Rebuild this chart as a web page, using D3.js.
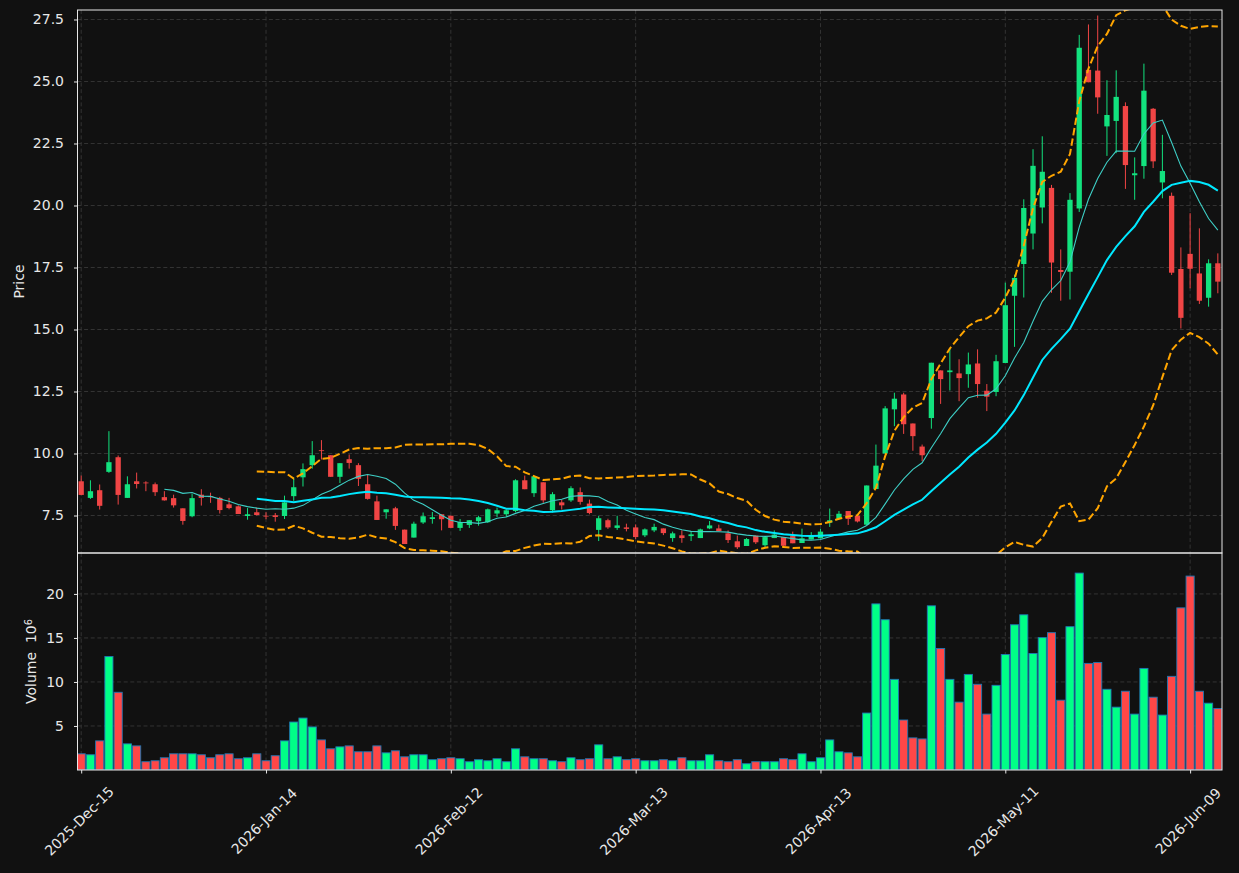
<!DOCTYPE html>
<html>
<head>
<meta charset="utf-8">
<script src="https://cdn.jsdelivr.net/npm/d3@7"></script>
<style>
  body { margin: 0; background: #111111; }
  text { font-family: "DejaVu Sans", sans-serif; }
</style>
</head>
<body>
<div id="chart"></div>
<script>
const width = 1239,
  height = 873,
  plotL = 77.5, plotR = 1222, plotT = 10, plotM = 553, plotB = 770;

// daily OHLC, trading days from 2025-12-15
const opens = [8.88,8.21,8.52,9.26,9.85,8.21,8.88,8.83,8.76,8.24,8.20,7.79,7.47,8.34,8.28,8.21,7.95,7.87,7.48,7.63,
  7.49,7.51,7.48,8.28,9.04,9.53,10.13,9.93,9.06,9.77,9.53,8.76,8.07,7.63,7.79,6.93,6.61,7.22,7.36,7.55,
  7.49,7.00,7.12,7.27,7.23,7.58,7.55,7.68,8.92,8.40,8.84,7.71,8.03,8.11,8.44,7.98,6.92,7.31,7.00,7.02,
  7.02,6.70,6.90,6.98,6.59,6.70,6.67,6.59,6.98,6.98,6.78,6.46,6.27,6.69,6.30,6.59,6.63,6.67,6.39,6.53,
  6.58,7.21,7.37,7.68,7.49,7.13,8.57,10.00,11.78,12.38,11.21,10.28,11.43,13.35,13.28,13.23,13.20,13.63,12.53,12.48,
  13.65,16.36,17.64,18.87,19.92,20.71,17.40,17.33,19.88,25.47,25.44,23.19,23.41,24.01,21.22,21.59,23.90,20.93,20.39,17.44,
  18.05,17.26,16.28,17.67];
const highs = [9.11,8.92,8.75,10.90,9.92,9.08,9.23,8.88,8.83,8.48,8.34,7.79,8.38,8.56,8.42,8.25,8.21,7.91,7.80,7.82,
  7.63,7.60,8.30,9.03,9.60,10.50,10.54,9.93,9.61,9.96,9.61,9.16,8.30,7.75,7.85,6.93,7.25,7.62,7.64,7.55,
  7.49,7.36,7.31,7.49,7.78,7.82,7.74,8.96,9.11,9.11,8.84,8.44,8.14,8.68,8.63,8.14,7.49,7.37,7.49,7.17,
  7.14,6.98,7.17,6.98,6.85,6.90,6.87,6.97,7.28,7.13,6.90,6.69,6.59,6.69,6.67,6.90,6.63,6.85,6.97,6.83,
  6.96,7.78,7.68,7.68,7.49,8.71,10.36,11.91,12.45,12.45,11.21,10.36,13.66,13.35,14.24,13.80,14.07,14.20,12.80,13.98,
  16.89,17.21,20.25,22.27,22.79,20.83,18.23,20.50,26.88,27.30,27.66,25.05,25.45,24.16,21.94,25.72,23.93,22.85,20.52,18.31,
  19.69,19.08,17.83,18.07];
const lows = [8.32,8.17,7.74,9.22,7.94,8.21,8.59,8.48,8.29,8.10,7.82,7.13,7.43,7.90,8.01,7.58,7.75,7.56,7.33,7.50,
  7.35,7.25,7.36,8.09,8.67,9.39,9.76,9.06,8.81,9.39,8.69,8.14,7.32,7.37,6.92,6.35,6.61,7.16,7.17,6.90,
  7.00,6.88,7.00,7.09,7.20,7.44,7.44,7.63,8.56,8.25,8.01,7.62,7.74,8.05,7.94,7.55,6.47,6.96,6.92,6.86,
  6.55,6.63,6.83,6.71,6.44,6.40,6.47,6.59,6.95,6.86,6.39,6.15,6.27,6.35,6.22,6.59,6.28,6.38,6.39,6.53,
  6.58,7.04,7.33,7.12,7.22,7.10,8.57,10.00,11.10,10.79,10.11,9.69,11.00,12.00,12.54,12.11,12.65,12.25,11.71,12.31,
  13.65,14.30,16.29,18.23,19.28,16.48,16.16,16.21,19.74,24.97,23.70,22.00,22.11,20.67,20.23,21.08,21.51,20.29,17.20,15.04,
  16.66,16.03,15.92,16.46];
const closes = [8.33,8.48,7.89,9.65,8.33,8.76,8.77,8.80,8.44,8.11,7.91,7.28,8.20,8.21,8.24,7.72,7.80,7.56,7.55,7.52,
  7.46,7.44,8.03,8.64,9.37,9.93,10.10,9.06,9.61,9.62,8.98,8.17,7.32,7.75,7.08,6.35,7.17,7.47,7.43,7.35,
  7.00,7.24,7.31,7.43,7.75,7.71,7.71,8.92,8.56,9.08,8.11,8.36,7.91,8.60,8.05,7.60,7.39,7.02,7.10,6.96,
  6.63,6.94,7.04,6.79,6.78,6.59,6.74,6.94,7.10,6.87,6.51,6.22,6.55,6.42,6.63,6.73,6.28,6.38,6.58,6.70,
  6.85,7.31,7.57,7.36,7.26,8.71,9.51,11.82,12.21,11.18,10.70,9.93,13.66,13.00,13.35,13.04,13.59,12.80,12.29,13.72,
  15.98,17.08,19.90,21.60,21.36,17.70,17.32,20.23,26.36,24.97,24.36,23.65,24.38,21.63,21.30,24.63,21.78,21.39,17.29,15.47,
  17.45,16.16,17.67,16.93];
// volume in millions
const volumes = [1.84,1.73,3.31,12.89,8.83,2.97,2.74,0.94,1.05,1.39,1.84,1.84,1.84,1.73,1.39,1.73,1.84,1.28,1.39,1.84,
  1.05,1.62,3.31,5.45,5.90,4.89,3.42,2.41,2.63,2.74,2.07,2.07,2.74,1.95,2.18,1.50,1.73,1.73,1.17,1.28,
  1.39,1.28,0.94,1.17,1.05,1.28,0.94,2.41,1.50,1.28,1.28,1.05,0.94,1.39,1.17,1.28,2.86,1.28,1.50,1.17,
  1.28,1.05,1.05,1.17,1.05,1.39,1.05,1.05,1.73,1.05,0.94,1.17,0.71,0.94,0.94,0.94,1.28,1.17,1.84,0.94,
  1.39,3.42,2.07,1.95,1.50,6.47,18.87,17.07,10.30,5.68,3.65,3.53,18.65,13.80,10.30,7.71,10.86,9.74,6.35,9.62,
  13.12,16.50,17.63,13.23,15.04,15.60,7.93,16.28,22.37,12.11,12.22,9.17,7.14,8.95,6.35,11.54,8.27,6.24,10.64,18.42,
  22.03,8.95,7.59,6.99];

const tickIdx = [0, 20, 40, 60, 80, 100, 120];
const tickLabels = ["2025-Dec-15","2026-Jan-14","2026-Feb-12","2026-Mar-13","2026-Apr-13","2026-May-11","2026-Jun-09"];
const priceTicks = [7.5, 10, 12.5, 15, 17.5, 20, 22.5, 25, 27.5];
const volTicks = [5, 10, 15, 20];

const upColor = "#12e27e", downColor = "#f04545",
  volUp = "#00ff87", volDown = "#ff4747",
  textColor = "#e8e8e8", gridColor = "#3c3c3c";

const svg = d3.select("#chart")
  .append("svg")
  .attr("width", width)
  .attr("height", height)
  .style("background", "#111111");

const x = d3.scaleLinear([-0.4, 123.45], [plotL, plotR]);
const y = d3.scaleLinear([5.988, 27.883], [plotM, plotT]);
const yv = d3.scaleLinear([0, 24.65], [plotB, plotM]);

// moving averages and bollinger bands from the closes
function rolling(arr, n, f) {
  return arr.map((d, i) => i < n - 1 ? null : f(arr.slice(i - n + 1, i + 1)));
}
const ma10 = rolling(closes, 10, w => d3.mean(w));
const ma20 = rolling(closes, 20, w => d3.mean(w));
const sd20 = rolling(closes, 20, w => {
  const m = d3.mean(w);
  return Math.sqrt(d3.mean(w, v => (v - m) ** 2));
});
const upper = ma20.map((m, i) => m == null ? null : m + 2 * sd20[i]);
const lower = ma20.map((m, i) => m == null ? null : m - 2 * sd20[i]);

svg.append("clipPath").attr("id", "clipPrice")
  .append("rect").attr("x", plotL).attr("y", plotT).attr("width", plotR - plotL).attr("height", plotM - plotT);
svg.append("clipPath").attr("id", "clipVol")
  .append("rect").attr("x", plotL).attr("y", plotM).attr("width", plotR - plotL).attr("height", plotB - plotM);

// grid
function hgrid(scale, ticks) {
  svg.append("g")
    .selectAll("line")
    .data(ticks)
    .join("line")
    .attr("x1", plotL).attr("x2", plotR)
    .attr("y1", d => scale(d)).attr("y2", d => scale(d))
    .attr("stroke", gridColor).attr("stroke-width", 0.8).attr("stroke-dasharray", "4,2.6");
}
hgrid(y, priceTicks);
hgrid(yv, volTicks);
[[plotT, plotM], [plotM, plotB]].forEach(([a, b]) => {
  svg.append("g")
    .selectAll("line")
    .data(tickIdx)
    .join("line")
    .attr("x1", d => x(d)).attr("x2", d => x(d))
    .attr("y1", a).attr("y2", b)
    .attr("stroke", gridColor).attr("stroke-width", 0.8).attr("stroke-dasharray", "4,2.6");
});

// candles
const idx = d3.range(closes.length);
const bodyW = 5.3;
const candles = svg.append("g").attr("clip-path", "url(#clipPrice)")
  .selectAll("g")
  .data(idx)
  .join("g")
  .attr("fill", i => closes[i] >= opens[i] ? upColor : downColor)
  .attr("stroke", i => closes[i] >= opens[i] ? upColor : downColor);

candles.append("line")
  .attr("x1", i => x(i)).attr("x2", i => x(i))
  .attr("y1", i => y(highs[i])).attr("y2", i => y(lows[i]))
  .attr("stroke-width", 1);

candles.append("rect")
  .attr("x", i => x(i) - bodyW / 2)
  .attr("width", bodyW)
  .attr("y", i => y(Math.max(opens[i], closes[i])))
  .attr("height", i => Math.max(0.8, Math.abs(y(opens[i]) - y(closes[i]))))
  .attr("stroke", "none");

// indicator lines
const line = d3.line()
  .defined(d => d != null)
  .x((d, i) => x(i))
  .y(d => y(d));

const lines = svg.append("g").attr("clip-path", "url(#clipPrice)").attr("fill", "none");
lines.append("path").attr("d", line(upper))
  .attr("stroke", "#ffa500").attr("stroke-width", 2).attr("stroke-dasharray", "7.4,3.2");
lines.append("path").attr("d", line(lower))
  .attr("stroke", "#ffa500").attr("stroke-width", 2).attr("stroke-dasharray", "7.4,3.2");
lines.append("path").attr("d", line(ma10))
  .attr("stroke", "#3ecfc6").attr("stroke-width", 1.1);
lines.append("path").attr("d", line(ma20))
  .attr("stroke", "#00e8ff").attr("stroke-width", 2);

// volume bars
const barW = 0.88 * (x(1) - x(0));
svg.append("g").attr("clip-path", "url(#clipVol)")
  .selectAll("rect")
  .data(idx)
  .join("rect")
  .attr("x", i => x(i) - barW / 2)
  .attr("width", barW)
  .attr("y", i => yv(volumes[i]))
  .attr("height", i => yv(0) - yv(volumes[i]))
  .attr("fill", i => closes[i] >= opens[i] ? volUp : volDown)
  .attr("stroke", "#1f77b4")
  .attr("stroke-width", 0.9);

// axes
function styleAxis(g) {
  g.select(".domain").remove();
  g.selectAll(".tick line").attr("stroke", textColor);
  g.selectAll(".tick text").attr("fill", textColor).style("font-size", "14px")
    .style("font-family", "'DejaVu Sans', sans-serif");
}

svg.append("g")
  .attr("transform", `translate(${plotL},0)`)
  .call(d3.axisLeft(y).tickValues(priceTicks).tickFormat(d3.format(".1f")).tickSize(3.5).tickPadding(10))
  .call(styleAxis);

svg.append("g")
  .attr("transform", `translate(${plotL},0)`)
  .call(d3.axisLeft(yv).tickValues(volTicks).tickFormat(d3.format("d")).tickSize(3.5).tickPadding(10))
  .call(styleAxis);

svg.append("g")
  .attr("transform", `translate(0,${plotB})`)
  .call(d3.axisBottom(x).tickValues(tickIdx).tickFormat("").tickSize(3.5))
  .call(styleAxis);

svg.append("g")
  .selectAll("text")
  .data(tickIdx)
  .join("text")
  .attr("transform", d => `translate(${x(d) - 2},821) rotate(-45)`)
  .attr("text-anchor", "middle")
  .attr("dominant-baseline", "central")
  .attr("fill", textColor)
  .style("font-size", "14px")
  .text((d, i) => tickLabels[i]);

// frames
[[plotT, plotM], [plotM, plotB]].forEach(([a, b]) => {
  svg.append("rect")
    .attr("x", plotL).attr("y", a)
    .attr("width", plotR - plotL).attr("height", b - a)
    .attr("fill", "none")
    .attr("stroke", textColor)
    .attr("stroke-width", 1);
});

// axis labels
svg.append("text")
  .attr("transform", `translate(24,${(plotT + plotM) / 2}) rotate(-90)`)
  .attr("text-anchor", "middle")
  .attr("fill", textColor)
  .style("font-size", "14px")
  .text("Price");

const vlab = svg.append("text")
  .attr("transform", `translate(36,${(plotM + plotB) / 2}) rotate(-90)`)
  .attr("text-anchor", "middle")
  .attr("fill", textColor)
  .style("white-space", "pre")
  .style("font-size", "14px");
vlab.append("tspan").text("Volume  10");
vlab.append("tspan").attr("dy", "-0.45em").style("font-size", "9.8px").text("6");
</script>
</body>
</html>
